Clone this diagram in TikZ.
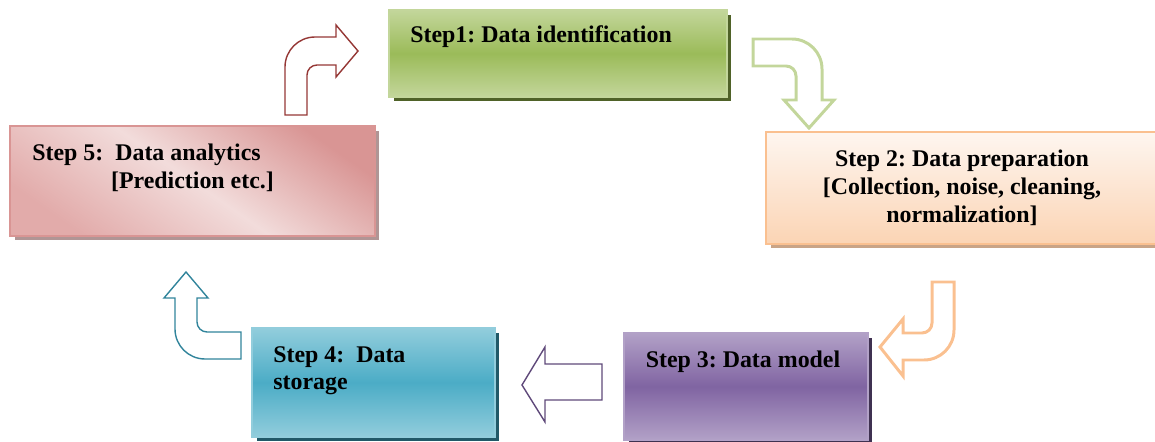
\documentclass[tikz,border=0pt]{standalone}
\usepackage{fontspec}
\setmainfont{Liberation Serif}
\frenchspacing
\usetikzlibrary{shadows}

\definecolor{identlight}{HTML}{C3D69B}
\definecolor{identmid}{HTML}{9BBB59}
\definecolor{identdark}{HTML}{4F6228}
\definecolor{preplight}{HTML}{FEF6F0}
\definecolor{prepmid}{HTML}{FBD4B4}
\definecolor{prepline}{HTML}{FAC090}
\definecolor{prepdark}{HTML}{C9A487}
\definecolor{modellight}{HTML}{B2A1C7}
\definecolor{modelmid}{HTML}{8064A2}
\definecolor{modeldark}{HTML}{3F3151}
\definecolor{modelline}{HTML}{5F497A}
\definecolor{storelight}{HTML}{92CDDC}
\definecolor{storemid}{HTML}{4BACC6}
\definecolor{storedark}{HTML}{215968}
\definecolor{storeline}{HTML}{31849B}
\definecolor{analydark}{HTML}{D99594}
\definecolor{analylight}{HTML}{F2DCDB}
\definecolor{analymid}{HTML}{E2ABAA}
\definecolor{analyshadow}{HTML}{B09595}
\definecolor{analyline}{HTML}{953735}

\tikzset{
  stepbox/.style={draw, line width=0.9pt, inner sep=0pt},
  steptext/.style={inner sep=0pt, font=\fontsize{13.6}{16}\selectfont\bfseries},
  boxshadow/.style={drop shadow={shadow xshift=0.09cm, shadow yshift=-0.09cm,
    fill=#1, opacity=1}},
}

\begin{document}
\begin{tikzpicture}[x=0.02cm,y=0.02cm]
\useasboundingbox (0,0) rectangle (1155,-442);
\clip (0,0) rectangle (1155,-442);

% boxes
\node[stepbox, draw=identlight, boxshadow=identdark,
  top color=identlight, bottom color=identlight, middle color=identmid,
  minimum width=6.76cm, minimum height=1.74cm] (ident) at (558,-53.5) {};
\node[stepbox, draw=prepline, boxshadow=prepdark,
  top color=preplight, bottom color=prepmid,
  minimum width=7.88cm, minimum height=2.24cm] (prep) at (963,-188) {};
\node[stepbox, draw=modellight, boxshadow=modeldark,
  top color=modellight, bottom color=modellight, middle color=modelmid,
  minimum width=4.88cm, minimum height=2.14cm] (model) at (746,-386.5) {};
\node[stepbox, draw=storelight, boxshadow=storedark,
  top color=storelight, bottom color=storelight, middle color=storemid,
  minimum width=4.86cm, minimum height=2.18cm] (store) at (373.5,-382.5) {};
\node[stepbox, draw=analydark, boxshadow=analyshadow,
  top color=analydark, bottom color=analymid, middle color=analylight,
  shading angle=-35,
  minimum width=7.3cm, minimum height=2.2cm] (analy) at (192.5,-181) {};

% texts (base = last line)
\node[steptext, anchor=base west] (identtxt) at (410,-43) {Step1: Data identification};
\node[steptext, anchor=base, align=center, font=\fontsize{13.6}{15.9}\selectfont\bfseries]
  (preptxt) at (962,-222) {Step 2: Data preparation\\{}[Collection, noise, cleaning,\\ normalization]};
\node[steptext, anchor=base] (modeltxt) at (743,-367) {Step 3: Data model};
\node[steptext, anchor=base west, align=left, font=\fontsize{13.6}{15.3}\selectfont\bfseries]
  (storetxt) at (273,-389) {Step 4:~~Data\\ storage};
\node[steptext, anchor=base west, align=left, font=\fontsize{13.6}{16.4}\selectfont\bfseries]
  (analytxt) at (32,-189) {Step 5:~~Data analytics\\ \hspace*{44.8pt}[Prediction etc.]};

% block arrows
\draw[analyline, line width=0.8pt, line join=miter] (285,-115) -- (285,-67)
  arc[start angle=180, end angle=90, radius=30] -- (336,-37) -- (336,-25)
  -- (358,-51) -- (336,-77) -- (336,-65) -- (317,-65)
  arc[start angle=90, end angle=180, radius=10] -- (307,-115) -- cycle;
\draw[identlight, line width=1.7pt] (753,-39) -- (792,-39)
  arc[start angle=90, end angle=0, radius=30] -- (822,-100) -- (834,-100)
  -- (809,-128) -- (784,-100) -- (796,-100) -- (796,-76)
  arc[start angle=0, end angle=90, radius=10] -- (753,-66) -- cycle;
\draw[prepline, line width=1.7pt] (932,-282) -- (954,-282) -- (954,-330)
  arc[start angle=0, end angle=-90, radius=30] -- (903,-360) -- (903,-376)
  -- (880,-347) -- (903,-319) -- (903,-333) -- (922,-333)
  arc[start angle=-90, end angle=0, radius=10] -- cycle;
\draw[modelline, line width=0.8pt] (602,-364) -- (545,-364) -- (545,-347)
  -- (522,-385) -- (545,-422) -- (545,-400) -- (602,-400) -- cycle;
\draw[storeline, line width=0.8pt] (241,-332) -- (207,-332)
  arc[start angle=-90, end angle=-180, radius=10] -- (197,-298) -- (208,-298)
  -- (186,-272) -- (164,-298) -- (175,-298) -- (175,-329)
  arc[start angle=180, end angle=270, radius=30] -- (241,-359) -- cycle;
\end{tikzpicture}
\end{document}
